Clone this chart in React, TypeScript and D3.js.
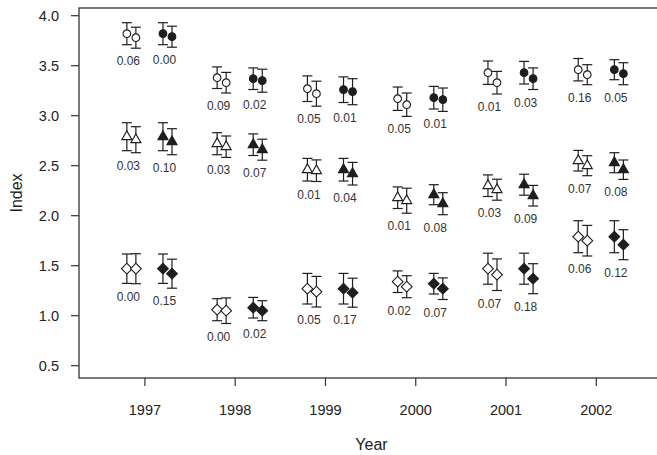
import React, { useEffect } from 'react';
import * as d3 from 'd3';

// years on the x axis
const years = [1997, 1998, 1999, 2000, 2001, 2002];
const yTicks = [0.5, 1.0, 1.5, 2.0, 2.5, 3.0, 3.5, 4.0];

// open circles
const openCircleFirst = [3.82, 3.38, 3.27, 3.17, 3.43, 3.46];
const openCircleFirstErr = [0.11, 0.108, 0.128, 0.117, 0.117, 0.112];
const openCircleSecond = [3.78, 3.33, 3.22, 3.11, 3.33, 3.41];
const openCircleSecondErr = [0.105, 0.103, 0.125, 0.117, 0.113, 0.1];
const openCircleP = ['0.06', '0.09', '0.05', '0.05', '0.01', '0.16'];

// filled circles
const filledCircleFirst = [3.82, 3.37, 3.26, 3.18, 3.43, 3.46];
const filledCircleFirstErr = [0.11, 0.108, 0.128, 0.113, 0.113, 0.1];
const filledCircleSecond = [3.79, 3.35, 3.24, 3.16, 3.37, 3.42];
const filledCircleSecondErr = [0.105, 0.115, 0.13, 0.117, 0.108, 0.11];
const filledCircleP = ['0.00', '0.02', '0.01', '0.01', '0.03', '0.05'];

// open triangles
const openTriangleFirst = [2.79, 2.72, 2.46, 2.18, 2.30, 2.55];
const openTriangleFirstErr = [0.14, 0.11, 0.113, 0.108, 0.108, 0.103];
const openTriangleSecond = [2.76, 2.69, 2.45, 2.15, 2.26, 2.50];
const openTriangleSecondErr = [0.13, 0.107, 0.108, 0.125, 0.105, 0.1];
const openTriangleP = ['0.03', '0.03', '0.01', '0.01', '0.03', '0.07'];

// filled triangles
const filledTriangleFirst = [2.79, 2.71, 2.46, 2.21, 2.31, 2.53];
const filledTriangleFirstErr = [0.14, 0.108, 0.113, 0.1, 0.105, 0.1];
const filledTriangleSecond = [2.74, 2.66, 2.42, 2.12, 2.20, 2.46];
const filledTriangleSecondErr = [0.13, 0.105, 0.113, 0.11, 0.103, 0.097];
const filledTriangleP = ['0.10', '0.07', '0.04', '0.08', '0.09', '0.08'];

// open diamonds
const openDiamondFirst = [1.47, 1.06, 1.27, 1.34, 1.47, 1.79];
const openDiamondFirstErr = [0.147, 0.11, 0.153, 0.108, 0.155, 0.16];
const openDiamondSecond = [1.47, 1.05, 1.24, 1.29, 1.41, 1.75];
const openDiamondSecondErr = [0.15, 0.128, 0.153, 0.11, 0.158, 0.153];
const openDiamondP = ['0.00', '0.00', '0.05', '0.02', '0.07', '0.06'];

// filled diamonds
const filledDiamondFirst = [1.47, 1.08, 1.27, 1.32, 1.47, 1.79];
const filledDiamondFirstErr = [0.147, 0.103, 0.153, 0.103, 0.155, 0.16];
const filledDiamondSecond = [1.42, 1.05, 1.23, 1.27, 1.37, 1.71];
const filledDiamondSecondErr = [0.145, 0.1, 0.145, 0.108, 0.15, 0.15];
const filledDiamondP = ['0.15', '0.02', '0.17', '0.07', '0.18', '0.12'];

const series = [
  { shape: 'circle', filled: false, first: openCircleFirst, firstErr: openCircleFirstErr, second: openCircleSecond, secondErr: openCircleSecondErr, p: openCircleP },
  { shape: 'circle', filled: true, first: filledCircleFirst, firstErr: filledCircleFirstErr, second: filledCircleSecond, secondErr: filledCircleSecondErr, p: filledCircleP },
  { shape: 'triangle', filled: false, first: openTriangleFirst, firstErr: openTriangleFirstErr, second: openTriangleSecond, secondErr: openTriangleSecondErr, p: openTriangleP },
  { shape: 'triangle', filled: true, first: filledTriangleFirst, firstErr: filledTriangleFirstErr, second: filledTriangleSecond, secondErr: filledTriangleSecondErr, p: filledTriangleP },
  { shape: 'diamond', filled: false, first: openDiamondFirst, firstErr: openDiamondFirstErr, second: openDiamondSecond, secondErr: openDiamondSecondErr, p: openDiamondP },
  { shape: 'diamond', filled: true, first: filledDiamondFirst, firstErr: filledDiamondFirstErr, second: filledDiamondSecond, secondErr: filledDiamondSecondErr, p: filledDiamondP },
];

const width = 657;
const height = 455;
const plot = { left: 79, right: 664, top: 8, bottom: 378 };
const ink = '#1e1e1e';
const font = '"Liberation Sans", Arial, Helvetica, sans-serif';

const x = d3.scaleLinear().domain([1996.27, 2002.75]).range([plot.left, plot.right]);
const y = d3.scaleLinear().domain([0.377, 4.077]).range([plot.bottom, plot.top]);

const symbols: Record<string, string> = {
  circle: d3.symbol().type(d3.symbolCircle).size(46)() as string,
  triangle: d3.symbol().type(d3.symbolTriangle).size(44)() as string,
  diamond: d3.symbol().type(d3.symbolSquare).size(58)() as string,
};

function Marker({ cx, cy, mean, err, shape, filled }: any) {
  const top = y(mean + err);
  const bot = y(mean - err);
  return (
    <g>
      <line x1={cx} x2={cx} y1={top} y2={bot} stroke={ink} strokeWidth={1.2} />
      <line x1={cx - 5} x2={cx + 5} y1={top} y2={top} stroke={ink} strokeWidth={1.2} />
      <line x1={cx - 5} x2={cx + 5} y1={bot} y2={bot} stroke={ink} strokeWidth={1.2} />
      <path
        d={symbols[shape]}
        transform={`translate(${cx},${cy})${shape === 'diamond' ? ' rotate(45)' : ''}`}
        fill={filled ? ink : '#fff'}
        stroke={ink}
        strokeWidth={1.1}
      />
    </g>
  );
}

export default function App() {
  useEffect(() => {
    document.body.style.margin = '0';
  }, []);

  return (
    <svg width={width} height={height} style={{ display: 'block', background: '#fff' }} fontFamily={font}>
      {/* frame */}
      <rect x={plot.left} y={plot.top} width={plot.right - plot.left} height={plot.bottom - plot.top} fill="none" stroke="#333" strokeWidth={1.3} />

      {/* y axis */}
      {yTicks.map((t) => (
        <g key={t} transform={`translate(0,${y(t)})`}>
          <line x1={plot.left - 8} x2={plot.left} stroke="#333" strokeWidth={1.2} />
          <text x={plot.left - 20} dy="0.35em" textAnchor="end" fontSize={14.5} fill="#222">{t.toFixed(1)}</text>
        </g>
      ))}
      <text transform={`translate(22,${(plot.top + plot.bottom) / 2}) rotate(-90)`} textAnchor="middle" fontSize={16} fill="#222">Index</text>

      {/* x axis */}
      {years.map((yr) => (
        <g key={yr} transform={`translate(${x(yr)},0)`}>
          <line y1={plot.bottom} y2={plot.bottom + 8} stroke="#333" strokeWidth={1.2} />
          <text y={plot.bottom + 37} textAnchor="middle" fontSize={14.5} fill="#222">{yr}</text>
        </g>
      ))}
      <text x={(plot.left + plot.right) / 2} y={plot.bottom + 72} textAnchor="middle" fontSize={16} fill="#222">Year</text>

      {/* points with error bars */}
      {series.map((s, si) =>
        years.map((yr, i) => {
          const off = s.filled ? [0.2, 0.3] : [-0.2, -0.1];
          const x1 = x(yr + off[0]);
          const x2 = x(yr + off[1]);
          const low = Math.min(s.first[i] - s.firstErr[i], s.second[i] - s.secondErr[i]);
          return (
            <g key={`${si}-${yr}`}>
              <Marker cx={x1} cy={y(s.first[i])} mean={s.first[i]} err={s.firstErr[i]} shape={s.shape} filled={s.filled} />
              <Marker cx={x2} cy={y(s.second[i])} mean={s.second[i]} err={s.secondErr[i]} shape={s.shape} filled={s.filled} />
              <text x={x1 + 1.5} y={y(low) + 17} textAnchor="middle" fontSize={12} fill="#333">{s.p[i]}</text>
            </g>
          );
        })
      )}
    </svg>
  );
}
